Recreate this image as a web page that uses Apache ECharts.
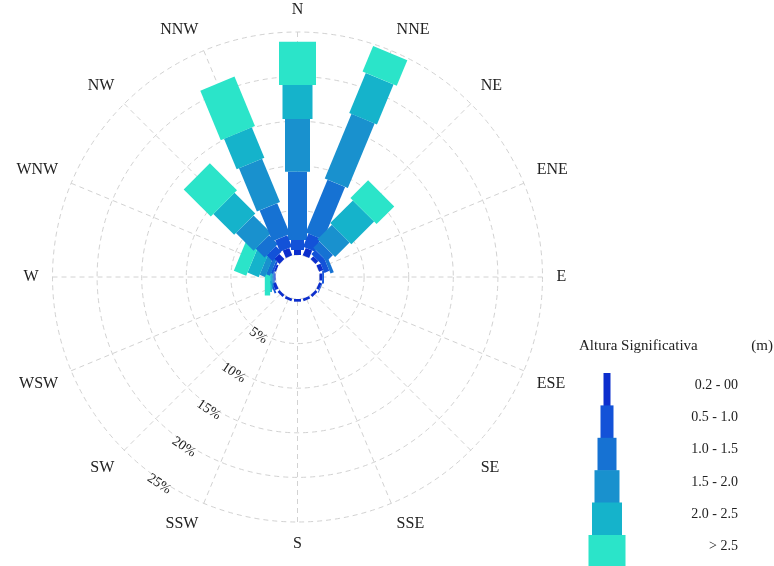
<!DOCTYPE html>
<html>
<head>
<meta charset="utf-8">
<script src="https://cdn.jsdelivr.net/npm/echarts@6/dist/echarts.min.js"></script>
<style>
html,body{margin:0;padding:0;background:#ffffff;}
#chart{width:774px;height:566px;}
</style>
</head>
<body>
<div id="chart"></div>
<script>
// ---- data ----
const directions = ['N','NNE','NE','ENE','E','ESE','SE','SSE','S','SSW','SW','WSW','W','WNW','NW','NNW'];
const directionAngles = [0,22.5,45,67.5,90,112.5,135,157.5,180,202.5,225,247.5,270,292.5,315,337.5];
const classLabels = ['0.2 - 00','0.5 - 1.0','1.0 - 1.5','1.5 - 2.0','2.0 - 2.5','> 2.5'];
// frequency (%) per direction for each significant height class
const h_02_05 = [0.56,0.90,0.45,0.50,0.30,0.30,0.30,0.30,0.30,0.30,0.30,0.40,0.10,0.22,0.80,0.90];
const h_05_10 = [1.12,1.60,0.65,0.60,0.20,0.10,0,0,0,0,0,0.20,0.10,0.23,0.90,1.40];
const h_10_15 = [7.66,6.40,1.00,0.40,0,0,0,0,0,0,0,0,0.10,0.45,1.40,3.75];
const h_15_20 = [5.91,7.85,2.30,0,0,0,0,0,0,0,0,0,0.10,0.65,2.80,5.25];
const h_20_25 = [3.81,4.85,3.60,0,0,0,0,0,0,0,0,0,0.20,1.35,3.30,3.70];
const h_25_up = [4.84,3.10,2.80,0,0,0,0,0,0,0,0,0,0.60,1.50,4.30,6.00];
const radiusTicks = [5,10,15,20,25];
const radiusTickLabels = ['5%','10%','15%','20%','25%'];

// ---- styles ----
const classColors = ['#0c2ecd','#1352d8','#1672d3','#1991ce','#15b3cb','#2be4c9'];
const classWidths = [7,13,19,25,30,37];
const serif = '"Liberation Serif","Times New Roman",serif';
const textColor = '#222222';
const gridColor = '#d2d2d2';
const radiusLabelAngle = 213.75;   // where the % labels sit
const radiusLabelOffset = 0.45;

const classSeries = [h_02_05,h_05_10,h_10_15,h_15_20,h_20_25,h_25_up];
const roseData = [];
directions.forEach(function (d, i) {
  let acc = 0;
  classSeries.forEach(function (arr, k) {
    const v = arr[i];
    if (v > 0) roseData.push([acc + v, directionAngles[i], acc, k]);
    acc += v;
  });
});

const chart = echarts.init(document.getElementById('chart'), null, {renderer: 'canvas'});

// legend graphic
const legendEls = [
  {type:'text', x:579, y:346, style:{text:'Altura Significativa', font:'15px ' + serif, fill:textColor, verticalAlign:'middle', align:'left'}},
  {type:'text', x:773, y:346, style:{text:'(m)', font:'15px ' + serif, fill:textColor, verticalAlign:'middle', align:'right'}}
];
classLabels.forEach(function (lab, k) {
  legendEls.push({type:'rect', shape:{x:607 - classWidths[k]/2, y:373 + k*32.4, width:classWidths[k], height:33}, style:{fill:classColors[k]}});
  legendEls.push({type:'text', x:738, y:385 + k*32.3, style:{text:lab, font:'14px ' + serif, fill:textColor, align:'right', verticalAlign:'middle'}});
});

const option = {
  animation: false,
  backgroundColor: '#ffffff',
  polar: {center: [297.5, 277], radius: [22, 245]},
  angleAxis: {
    type: 'value', min: 0, max: 360, interval: 22.5,
    startAngle: 90, clockwise: true,
    axisLine: {show: false},
    axisTick: {show: false},
    axisLabel: {
      show: true, margin: 14,
      fontFamily: serif, fontSize: 16, color: textColor,
      formatter: function (v) {
        const idx = directionAngles.findIndex(function (a) { return Math.abs(a - v) < 1e-6; });
        return idx >= 0 ? directions[idx] : '';
      }
    },
    splitLine: {show: true, lineStyle: {color: gridColor, width: 1, type: [5, 4]}}
  },
  radiusAxis: {
    type: 'value', min: 0, max: 25, interval: 5,
    axisLine: {show: false}, axisTick: {show: false}, axisLabel: {show: false},
    splitLine: {show: true, lineStyle: {color: gridColor, width: 1, type: [5, 4]}}
  },
  graphic: legendEls,
  series: [
    {
      type: 'custom',
      coordinateSystem: 'polar',
      data: roseData,
      renderItem: function (params, api) {
        const rEnd = api.value(0), ang = api.value(1), rStart = api.value(2), k = api.value(3);
        const p0 = api.coord([rStart, ang]);
        const p1 = api.coord([rEnd, ang]);
        const cx = params.coordSys.cx, cy = params.coordSys.cy;
        const dx = p1[0] - cx, dy = p1[1] - cy;
        const len = Math.sqrt(dx*dx + dy*dy) || 1;
        const ux = dx/len, uy = dy/len;
        const hw = classWidths[k] / 2;
        const nx = -uy * hw, ny = ux * hw;
        return {
          type: 'polygon',
          shape: {points: [
            [p0[0] + nx, p0[1] + ny], [p1[0] + nx, p1[1] + ny],
            [p1[0] - nx, p1[1] - ny], [p0[0] - nx, p0[1] - ny]
          ]},
          style: {fill: classColors[k]}
        };
      }
    },
    {
      type: 'custom',
      coordinateSystem: 'polar',
      data: radiusTicks.map(function (v, i) { return [v, radiusLabelAngle, i]; }),
      renderItem: function (params, api) {
        const v = api.value(0), i = api.value(2);
        const p = api.coord([v + radiusLabelOffset, radiusLabelAngle]);
        const cx = params.coordSys.cx, cy = params.coordSys.cy;
        const dx = p[0] - cx, dy = p[1] - cy;
        const rot = -Math.atan2(-dx, dy);
        return {
          type: 'text', x: p[0], y: p[1], rotation: rot,
          style: {text: radiusTickLabels[i], font: '14px ' + serif, fill: textColor, align: 'center', verticalAlign: 'middle'}
        };
      }
    }
  ]
};
chart.setOption(option);
</script>
</body>
</html>
